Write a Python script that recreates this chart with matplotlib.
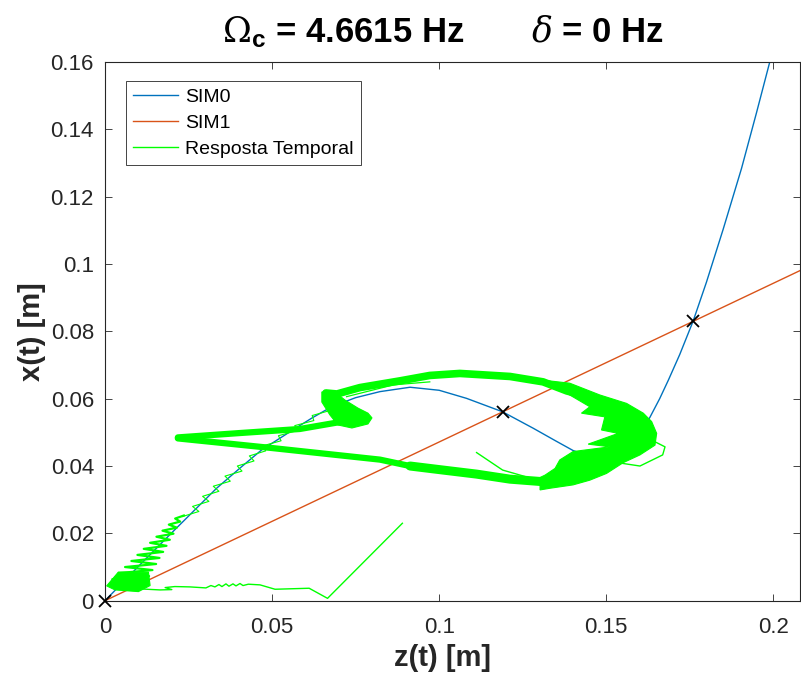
import numpy as np
import matplotlib.pyplot as plt
from matplotlib.patches import Polygon

plt.rcParams['font.family'] = ['Liberation Sans', 'DejaVu Sans']
plt.rcParams['mathtext.fontset'] = 'custom'
plt.rcParams['mathtext.rm'] = 'DejaVu Serif'
plt.rcParams['mathtext.it'] = 'DejaVu Serif:italic'
plt.rcParams['mathtext.bf'] = 'Liberation Sans:bold'

# SIM0 curve (z, x)
sim0_z = [0.0, 0.010, 0.020, 0.0334, 0.0410, 0.0469, 0.0554, 0.0620, 0.0678, 0.0750,
          0.0823, 0.0913, 0.1000, 0.1082, 0.1190, 0.1282, 0.1350, 0.1401, 0.1430,
          0.1460, 0.1490, 0.1520, 0.1550, 0.1580, 0.1610, 0.1631, 0.1660, 0.1686,
          0.1720, 0.1760, 0.1800, 0.1850, 0.1905, 0.1950, 0.2000]
sim0_x = [0.0, 0.0102, 0.0202, 0.0334, 0.0399, 0.0448, 0.0502, 0.0543, 0.0576, 0.0603,
          0.0621, 0.0634, 0.0625, 0.0601, 0.0561, 0.0512, 0.0474, 0.0446, 0.0436,
          0.0431, 0.0433, 0.0442, 0.0458, 0.0480, 0.0510, 0.0545, 0.0600, 0.0655,
          0.0731, 0.0830, 0.0946, 0.1103, 0.1284, 0.1450, 0.1640]

# SIM1 straight line
sim1_z = [0.0, 0.22]
sim1_x = [0.0, 0.1037]

# intersections
cross_z = [0.0, 0.119, 0.176]
cross_x = [0.0, 0.0561, 0.0830]

# Resposta temporal - thin pieces
tail_z = [0.0890, 0.0666, 0.0611, 0.0509, 0.0464, 0.0429, 0.0413, 0.0404, 0.0392, 0.0383,
          0.0371, 0.0362, 0.0350, 0.0341, 0.0329, 0.0317, 0.0302, 0.0254, 0.0209, 0.0180,
          0.0200, 0.0165, 0.0105]
tail_x = [0.0230, 0.0007, 0.0037, 0.0034, 0.0047, 0.0049, 0.0045, 0.0051, 0.0044, 0.0050,
          0.0043, 0.0050, 0.0042, 0.0048, 0.0041, 0.0045, 0.0038, 0.0041, 0.0042, 0.0039,
          0.0033, 0.0032, 0.0035]

# zigzag fan near the origin
fan_z = [0.0122, 0.0022, 0.0132, 0.0041, 0.0142, 0.0060, 0.0153, 0.0079, 0.0163, 0.0097,
         0.0174, 0.0116, 0.0184, 0.0135, 0.0194, 0.0154, 0.0205, 0.0172, 0.0215, 0.0191,
         0.0225, 0.0210, 0.0236]
fan_x = [0.0055, 0.0064, 0.0073, 0.0082, 0.0091, 0.0100, 0.0109, 0.0118, 0.0127, 0.0136,
         0.0145, 0.0154, 0.0163, 0.0172, 0.0181, 0.0190, 0.0199, 0.0208, 0.0217, 0.0226,
         0.0235, 0.0244, 0.0253]

diag_z = [0.0232, 0.0281, 0.0262, 0.0311, 0.0292, 0.0341, 0.0324, 0.0375, 0.0359, 0.0410,
          0.0396, 0.0446, 0.0432, 0.0481, 0.0472, 0.0527, 0.0519, 0.0574, 0.0568, 0.0625,
          0.0620, 0.0674, 0.0675]
diag_x = [0.025, 0.0265, 0.028, 0.0295, 0.031, 0.0325, 0.034, 0.0355, 0.037, 0.0385,
          0.040, 0.0415, 0.043, 0.0445, 0.046, 0.0475, 0.049, 0.0505, 0.052, 0.0535,
          0.055, 0.0565, 0.058]

wander_z = [0.1112, 0.1190, 0.1302, 0.1326, 0.1541, 0.1601, 0.1669, 0.1676, 0.1646]
wander_x = [0.0440, 0.0388, 0.0356, 0.0364, 0.0409, 0.0400, 0.0433, 0.0457, 0.0472]

under_z = [0.0723, 0.0863, 0.0972]
under_x = [0.0606, 0.0641, 0.0650]

# thick bands (centre lines)
top_z = [0.0661, 0.0694, 0.0763, 0.0883, 0.0972, 0.1062, 0.1212, 0.1311, 0.1382, 0.1451]
top_x = [0.0617, 0.0614, 0.0633, 0.0653, 0.0669, 0.0675, 0.0666, 0.0650, 0.0623, 0.0605]

bot_z = [0.1317, 0.1212, 0.1112, 0.1012, 0.0913]
bot_x = [0.0353, 0.0361, 0.0376, 0.0388, 0.0400]

low_z = [0.0913, 0.0823, 0.0504, 0.0218]
low_x = [0.0400, 0.0419, 0.0453, 0.0482]

up_z = [0.0218, 0.0404, 0.0583, 0.0688, 0.0763, 0.0781]
up_x = [0.0485, 0.0498, 0.0510, 0.0528, 0.0540, 0.0541]

# filled areas (outlines)
base_z = [0.0005, 0.0040, 0.0130, 0.0135, 0.0100, 0.0030]
base_x = [0.0044, 0.0085, 0.0085, 0.0045, 0.0027, 0.0032]

lobe_z = [0.0649, 0.0688, 0.0718, 0.0757, 0.0787, 0.0799, 0.0787, 0.0739, 0.0697, 0.0673, 0.0649]
lobe_x = [0.0620, 0.0620, 0.0596, 0.0572, 0.0557, 0.0543, 0.0525, 0.0513, 0.0522, 0.0552, 0.0590]

right_z = [0.1302, 0.1391, 0.1481, 0.1561, 0.1611, 0.1636, 0.1651, 0.1646, 0.1601, 0.1551,
           0.1501, 0.1451, 0.1401, 0.1332, 0.1302,
           0.1302, 0.1317, 0.1347, 0.1361, 0.1401, 0.1511, 0.1446, 0.1536, 0.1486, 0.1496,
           0.1426, 0.1451, 0.1391, 0.1332]
right_x = [0.0656, 0.0646, 0.0611, 0.0586, 0.0557, 0.0532, 0.0497, 0.0462, 0.0433, 0.0410,
           0.0378, 0.0358, 0.0344, 0.0334, 0.0329,
           0.0366, 0.0373, 0.0393, 0.0418, 0.0443, 0.0457, 0.0465, 0.0497, 0.0507, 0.0546,
           0.0557, 0.0576, 0.0611, 0.0641]

green = '#00FF00'
dark = '#262626'

fig = plt.figure(figsize=(8.01, 6.77), dpi=100)
ax = fig.add_axes([105 / 801, 76.3 / 677, 695 / 801, 538.7 / 677])

ax.plot(sim0_z, sim0_x, color='#0072BD', lw=1.0, label='SIM0', zorder=2)
ax.plot(sim1_z, sim1_x, color='#D95319', lw=1.0, label='SIM1', zorder=2)

ax.plot(tail_z, tail_x, color=green, lw=1.0, label='Resposta Temporal', zorder=3)
ax.plot(fan_z, fan_x, color=green, lw=1.6, zorder=3)
ax.plot(diag_z, diag_x, color=green, lw=0.8, zorder=3)
ax.plot(wander_z, wander_x, color=green, lw=1.0, zorder=3)
ax.plot(under_z, under_x, color=green, lw=0.9, zorder=3)
for zz, xx, w in [(top_z, top_x, 5.5), (bot_z, bot_x, 6.5), (low_z, low_x, 4.5), (up_z, up_x, 4.5)]:
    ax.plot(zz, xx, color=green, lw=w, solid_capstyle='round', solid_joinstyle='round', zorder=3)
for zz, xx in [(base_z, base_x), (lobe_z, lobe_x), (right_z, right_x)]:
    ax.add_patch(Polygon(np.column_stack([zz, xx]), closed=True, facecolor=green,
                         edgecolor=green, lw=0.8, zorder=3))

ax.plot(cross_z, cross_x, 'x', color='black', ms=8, mew=1.3, zorder=5, clip_on=False)

ax.set_xlim(0, 0.208)
ax.set_ylim(0, 0.16)
ax.set_xticks([0, 0.05, 0.1, 0.15, 0.2])
ax.set_xticklabels(['0', '0.05', '0.1', '0.15', '0.2'])
ax.set_yticks(np.arange(0, 0.161, 0.02))
ax.set_yticklabels(['0', '0.02', '0.04', '0.06', '0.08', '0.1', '0.12', '0.14', '0.16'])
ax.tick_params(direction='in', length=5, width=0.6, colors=dark, labelsize=16,
               top=True, right=True)
ax.tick_params(axis='x', pad=12)
ax.tick_params(axis='y', pad=8)
for s in ax.spines.values():
    s.set_color(dark)
    s.set_linewidth(0.8)

ax.set_xlabel('z(t) [m]', fontsize=21, fontweight='bold', color=dark, labelpad=4, x=0.4856)
ax.set_ylabel('x(t) [m]', fontsize=21, fontweight='bold', color=dark, labelpad=3)
ax.set_title(r'$\Omega_{\mathbf{c}}$ = 4.6615 Hz       $\delta$ = 0 Hz',
             fontsize=25, fontweight='bold', pad=14, x=0.4856)

leg = ax.legend(loc='upper left', bbox_to_anchor=(0.0302, 0.9647), borderaxespad=0,
                fontsize=14, handlelength=2.3, handletextpad=0.35, labelspacing=0.42,
                borderpad=0.38, fancybox=False, framealpha=1)
leg.get_frame().set_edgecolor(dark)
leg.get_frame().set_linewidth(0.6)

fig.savefig('out.png', dpi=100)
